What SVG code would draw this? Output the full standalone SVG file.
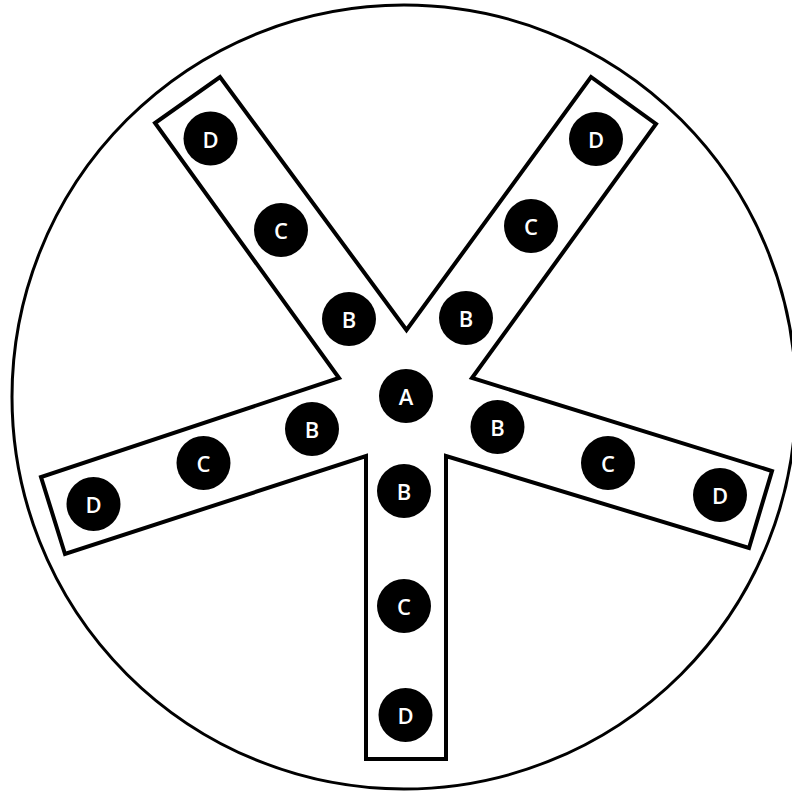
<svg xmlns="http://www.w3.org/2000/svg" width="792" height="793" viewBox="0 0 792 793">
<style>
.outline{fill:none;stroke:#000;stroke-width:3}
.star{fill:#fff;stroke:#000;stroke-width:4;stroke-linejoin:miter}
.dot{fill:#000}
.lbl{fill:#fff;font-family:"Open Sans","Liberation Sans",sans-serif;font-weight:600;font-size:22px;text-anchor:middle;dominant-baseline:central}
</style>
<rect width="792" height="793" fill="#fff"/>
<circle class="outline" cx="404" cy="397" r="392"/>
<g id="star">
<polygon class="star" points="406.5,330 591,77 656,124 472,378 772,471 749,548 446,456 446,759 366,759 366,456 65,554 41,477 339,378 155,123 220,77"/>
</g>
<g id="connectors"></g>
<g id="nodeA"><circle class="dot" cx="406" cy="396" r="27"/><text class="lbl" x="406" y="396">A</text></g>
<g id="ulD"><circle class="dot" cx="210.5" cy="138.5" r="27"/><text class="lbl" x="210.5" y="138.5">D</text></g>
<g id="ulC"><circle class="dot" cx="281" cy="230" r="27"/><text class="lbl" x="281" y="230">C</text></g>
<g id="ulB"><circle class="dot" cx="349" cy="319" r="27"/><text class="lbl" x="349" y="319">B</text></g>
<g id="urD"><circle class="dot" cx="596" cy="139" r="27"/><text class="lbl" x="596" y="139">D</text></g>
<g id="urC"><circle class="dot" cx="531" cy="226" r="27"/><text class="lbl" x="531" y="226">C</text></g>
<g id="urB"><circle class="dot" cx="466" cy="318" r="27"/><text class="lbl" x="466" y="318">B</text></g>
<g id="llD"><circle class="dot" cx="93.5" cy="504" r="27"/><text class="lbl" x="93.5" y="504">D</text></g>
<g id="llC"><circle class="dot" cx="203.5" cy="463" r="27"/><text class="lbl" x="203.5" y="463">C</text></g>
<g id="llB"><circle class="dot" cx="312" cy="429" r="27"/><text class="lbl" x="312" y="429">B</text></g>
<g id="lrB"><circle class="dot" cx="497.5" cy="427" r="27"/><text class="lbl" x="497.5" y="427">B</text></g>
<g id="lrC"><circle class="dot" cx="608" cy="463" r="27"/><text class="lbl" x="608" y="463">C</text></g>
<g id="lrD"><circle class="dot" cx="720" cy="495" r="27"/><text class="lbl" x="720" y="495">D</text></g>
<g id="bB"><circle class="dot" cx="404" cy="491" r="27"/><text class="lbl" x="404" y="491">B</text></g>
<g id="bC"><circle class="dot" cx="404" cy="606" r="27"/><text class="lbl" x="404" y="606">C</text></g>
<g id="bD"><circle class="dot" cx="405.5" cy="715" r="27"/><text class="lbl" x="405.5" y="715">D</text></g>
</svg>
